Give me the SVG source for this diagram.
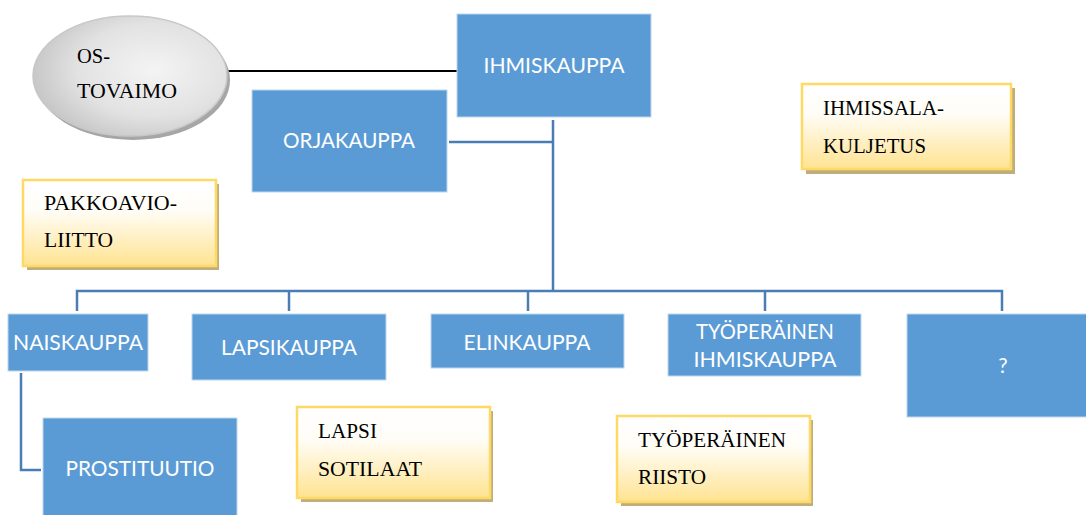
<svg xmlns="http://www.w3.org/2000/svg" width="1086" height="515" viewBox="0 0 1086 515">
<defs>
<linearGradient id="yel" x1="0" y1="0" x2="0" y2="1">
<stop offset="0" stop-color="#FFFFFF"/>
<stop offset="0.35" stop-color="#FFFDF7"/>
<stop offset="1" stop-color="#FFE391"/>
</linearGradient>
<radialGradient id="gray" cx="0.62" cy="0.45" r="0.65">
<stop offset="0" stop-color="#F4F4F4"/>
<stop offset="0.6" stop-color="#E2E2E2"/>
<stop offset="1" stop-color="#C4C4C4"/>
</radialGradient>
<style>
.blue{fill:#5B9BD5;stroke:#BDD7EE;stroke-width:1}
.bt{font-family:Lato,"Open Sans","Liberation Sans",sans-serif;font-size:21px;fill:#FFFFFF;text-anchor:middle}
.yb{fill:url(#yel);stroke:#FFD966;stroke-width:2.5}
.sh{fill:#BFAE7C}
.st{font-family:"Liberation Serif","Times New Roman","DejaVu Serif",serif;font-size:22px;fill:#000000}
.con{fill:none;stroke:#4A7DB5;stroke-width:2.5}
</style>
</defs>
<g id="connectors">
<line x1="228" y1="71" x2="460" y2="71" stroke="#000000" stroke-width="2"/>
<polyline class="con" points="449,142 553,142"/>
<polyline class="con" points="553,120 553,291"/>
<polyline class="con" points="77,311 77,291 1002,291 1002,311"/>
<line class="con" x1="289" y1="291" x2="289" y2="311"/>
<line class="con" x1="528" y1="291" x2="528" y2="311"/>
<line class="con" x1="765" y1="291" x2="765" y2="311"/>
<polyline class="con" points="21,373 21,470 41,470"/>
</g>
<g id="ostovaimo">
<ellipse cx="133" cy="80" rx="97" ry="60" fill="#A6A6A6"/>
<ellipse cx="130" cy="76" rx="97" ry="60" fill="url(#gray)" stroke="#C8C8C8" stroke-width="1.5"/>
<text class="st" x="77" y="63" textLength="33" lengthAdjust="spacingAndGlyphs">OS-</text>
<text class="st" x="77" y="98" textLength="100" lengthAdjust="spacingAndGlyphs">TOVAIMO</text>
</g>
<g id="ihmiskauppa">
<rect class="blue" x="457" y="14" width="194" height="103"/>
<text class="bt" x="554" y="73" textLength="141" lengthAdjust="spacingAndGlyphs">IHMISKAUPPA</text>
</g>
<g id="orjakauppa">
<rect class="blue" x="252" y="90" width="195" height="102"/>
<text class="bt" x="349" y="148" textLength="132" lengthAdjust="spacingAndGlyphs">ORJAKAUPPA</text>
</g>
<g id="ihmissalakuljetus">
<rect class="sh" x="806" y="88" width="209" height="86"/>
<rect class="yb" x="802" y="84" width="209" height="85"/>
<text class="st" x="823" y="115" textLength="121" lengthAdjust="spacingAndGlyphs">IHMISSALA-</text>
<text class="st" x="823" y="153" textLength="103" lengthAdjust="spacingAndGlyphs">KULJETUS</text>
</g>
<g id="pakkoavioliitto">
<rect class="sh" x="27" y="184" width="192" height="86"/>
<rect class="yb" x="23" y="180" width="193" height="86"/>
<text class="st" x="44" y="210" textLength="133" lengthAdjust="spacingAndGlyphs">PAKKOAVIO-</text>
<text class="st" x="44" y="247" textLength="69" lengthAdjust="spacingAndGlyphs">LIITTO</text>
</g>
<g id="naiskauppa">
<rect class="blue" x="8" y="314" width="140" height="57"/>
<text class="bt" x="78" y="350" textLength="130" lengthAdjust="spacingAndGlyphs">NAISKAUPPA</text>
</g>
<g id="lapsikauppa">
<rect class="blue" x="192" y="314" width="194" height="66"/>
<text class="bt" x="289" y="355" textLength="136" lengthAdjust="spacingAndGlyphs">LAPSIKAUPPA</text>
</g>
<g id="elinkauppa">
<rect class="blue" x="431" y="314" width="193" height="54"/>
<text class="bt" x="527" y="350" textLength="127" lengthAdjust="spacingAndGlyphs">ELINKAUPPA</text>
</g>
<g id="tyoperainen-ihmiskauppa">
<rect class="blue" x="668" y="314" width="193" height="62"/>
<text class="bt" x="765" y="339" textLength="138" lengthAdjust="spacingAndGlyphs">TYÖPERÄINEN</text>
<text class="bt" x="765" y="367" textLength="143" lengthAdjust="spacingAndGlyphs">IHMISKAUPPA</text>
</g>
<g id="kysymys">
<rect class="blue" x="907" y="314" width="180" height="103"/>
<text class="bt" x="1003" y="373">?</text>
</g>
<g id="prostituutio">
<rect class="blue" x="43" y="418" width="194" height="100"/>
<text class="bt" x="140" y="476" textLength="149" lengthAdjust="spacingAndGlyphs">PROSTITUUTIO</text>
</g>
<g id="lapsisotilaat">
<rect class="sh" x="301" y="411" width="192" height="91"/>
<rect class="yb" x="297" y="407" width="193" height="91"/>
<text class="st" x="318" y="438" textLength="59" lengthAdjust="spacingAndGlyphs">LAPSI</text>
<text class="st" x="318" y="476" textLength="104" lengthAdjust="spacingAndGlyphs">SOTILAAT</text>
</g>
<g id="tyoperainen-riisto">
<rect class="sh" x="621" y="420" width="192" height="86"/>
<rect class="yb" x="617" y="416" width="193" height="86"/>
<text class="st" x="638" y="447" textLength="148" lengthAdjust="spacingAndGlyphs">TYÖPERÄINEN</text>
<text class="st" x="638" y="484" textLength="68" lengthAdjust="spacingAndGlyphs">RIISTO</text>
</g>
</svg>
